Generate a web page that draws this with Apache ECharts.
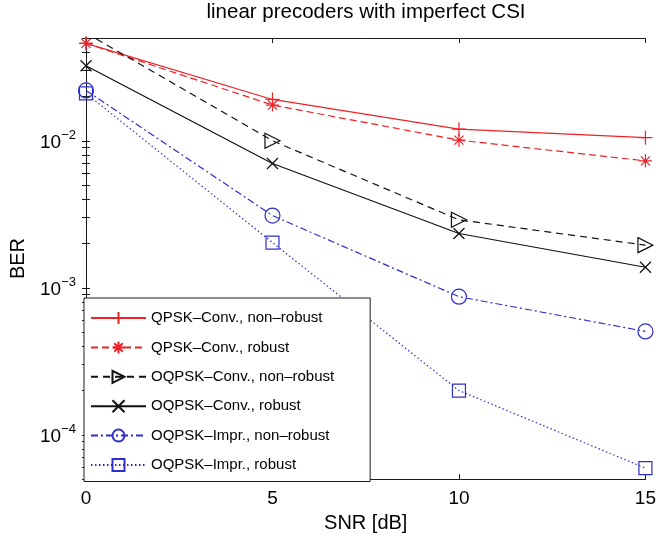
<!DOCTYPE html>
<html><head><meta charset="utf-8">
<script src="https://cdn.jsdelivr.net/npm/echarts@6/dist/echarts.min.js"></script>
<style>html,body{margin:0;padding:0;background:#fff}#c{width:659px;height:538px}</style>
</head><body><div id="c"></div>
<script>
const titleText = 'linear precoders with imperfect CSI';
const xName = 'SNR [dB]';
const yName = 'BER';
const snr = [0, 5, 10, 15];
const seriesNames = [
  'QPSK\u2013Conv., non\u2013robust',
  'QPSK\u2013Conv., robust',
  'OQPSK\u2013Conv., non\u2013robust',
  'OQPSK\u2013Conv., robust',
  'OQPSK\u2013Impr., non\u2013robust',
  'OQPSK\u2013Impr., robust'
];
const qpskConvNon = [0.046, 0.0191, 0.0120, 0.0105];
const qpskConvRob = [0.046, 0.0175, 0.0101, 0.0073];
const oqpskConvNon = [0.054, 0.0100, 0.0029, 0.00195];
const oqpskConvRob = [0.0324, 0.0070, 0.00234, 0.00138];
const oqpskImprNon = [0.022, 0.0031, 0.00087, 0.000505];
const oqpskImprRob = [0.021, 0.00203, 0.00020, 0.0000594];
const xTicks = [0, 5, 10, 15];
const yLabelValues = [1e-4, 1e-3, 1e-2];
const yTickValues = [5e-5, 6e-5, 7e-5, 8e-5, 9e-5,
  1e-4, 2e-4, 3e-4, 4e-4, 5e-4, 6e-4, 7e-4, 8e-4, 9e-4,
  1e-3, 2e-3, 3e-3, 4e-3, 5e-3, 6e-3, 7e-3, 8e-3, 9e-3,
  1e-2, 2e-2, 3e-2, 4e-2, 5e-2];
const yMin = 5e-5, yMax = 5e-2;

const RED = '#ec2228', BLK = '#111111', BLUE = '#2e2ecc';
const FONT = 'Liberation Sans';
const PLUS = 'path://M0,-1L0,1M-1,0L1,0';
const STAR = 'path://M0,-1L0,1M-1,0L1,0M-0.7,-0.7L0.7,0.7M-0.7,0.7L0.7,-0.7';
const CROSS = 'path://M-1,-1L1,1M-1,1L1,-1';
const TRI = 'path://M-1,-1L1,0L-1,1Z';

function mk(name, vals, color, dash, symbol, size) {
  return {
    name, type: 'line', data: snr.map((x, i) => [x, vals[i]]),
    symbol, symbolSize: size, showSymbol: true, clip: true,
    lineStyle: { color, width: 1.2, type: dash },
    itemStyle: { color: 'none', borderColor: color, borderWidth: 1.2 },
    emphasis: { disabled: true }, animation: false
  };
}

const axisLineStyle = { color: '#1a1a1a', width: 1 };
const chart = echarts.init(document.getElementById('c'), null, { renderer: 'canvas' });
chart.setOption({
  animation: false,
  textStyle: { fontFamily: FONT },
  title: { text: titleText, left: 366, textAlign: 'center', top: 2, padding: 0,
    textStyle: { fontFamily: FONT, fontSize: 20.5, fontWeight: 'normal', color: '#000' } },
  grid: { left: 84, right: 12, top: 38, bottom: 56, show: false },
  legend: {
    orient: 'vertical', left: 84, top: 298,
    padding: [11.5, 36, 8, 6], itemGap: 12.4, itemWidth: 55, itemHeight: 15,
    backgroundColor: '#fff', borderColor: '#1a1a1a', borderWidth: 1,
    textStyle: { fontFamily: FONT, fontSize: 15, color: '#000' },
    data: seriesNames
  },
  xAxis: [
    { type: 'value', min: 0, max: 15, interval: 5, position: 'bottom',
      name: xName, nameLocation: 'middle', nameGap: 30,
      nameTextStyle: { fontFamily: FONT, fontSize: 20, color: '#000' },
      axisLine: { show: true, lineStyle: axisLineStyle },
      axisTick: { show: true, inside: true, length: 5, lineStyle: axisLineStyle, customValues: xTicks },
      axisLabel: { fontFamily: FONT, fontSize: 19, color: '#000', margin: 10, customValues: xTicks },
      splitLine: { show: false } },
    { type: 'value', min: 0, max: 15, interval: 5, position: 'top',
      axisLine: { show: true, lineStyle: axisLineStyle },
      axisTick: { show: true, inside: true, length: 5, lineStyle: axisLineStyle },
      axisLabel: { show: false }, splitLine: { show: false } }
  ],
  yAxis: [
    { type: 'log', logBase: 10, min: yMin, max: yMax, position: 'left',
      name: yName, nameLocation: 'middle', nameGap: 58, nameRotate: 90,
      nameTextStyle: { fontFamily: FONT, fontSize: 20, color: '#000' },
      axisLine: { show: true, lineStyle: axisLineStyle },
      axisTick: { show: true, inside: true, length: 4, lineStyle: axisLineStyle, customValues: yTickValues },
      axisLabel: { margin: 10, customValues: yLabelValues,
        formatter: v => '{b|10}{s|\u2212' + Math.round(-Math.log10(v)) + '}',
        rich: { b: { fontFamily: FONT, fontSize: 19, color: '#000', verticalAlign: 'bottom' },
                s: { fontFamily: FONT, fontSize: 13, color: '#000', verticalAlign: 'bottom', padding: [0, 0, 10, 0] } } },
      splitLine: { show: false } },
    { type: 'log', logBase: 10, min: yMin, max: yMax, position: 'right',
      axisLine: { show: true, lineStyle: axisLineStyle },
      axisTick: { show: true, inside: true, length: 4, lineStyle: axisLineStyle, customValues: yTickValues },
      axisLabel: { show: false }, splitLine: { show: false } }
  ],
  series: [
    mk(seriesNames[0], qpskConvNon, RED, 'solid', PLUS, 14),
    mk(seriesNames[1], qpskConvRob, RED, [7, 4], STAR, 13),
    mk(seriesNames[2], oqpskConvNon, BLK, [7, 5], TRI, 15),
    mk(seriesNames[3], oqpskConvRob, BLK, 'solid', CROSS, 11),
    mk(seriesNames[4], oqpskImprNon, BLUE, [7, 3, 2, 3], 'circle', 15),
    mk(seriesNames[5], oqpskImprRob, BLUE, [1.5, 2.5], 'rect', 13)
  ]
});
</script></body></html>
